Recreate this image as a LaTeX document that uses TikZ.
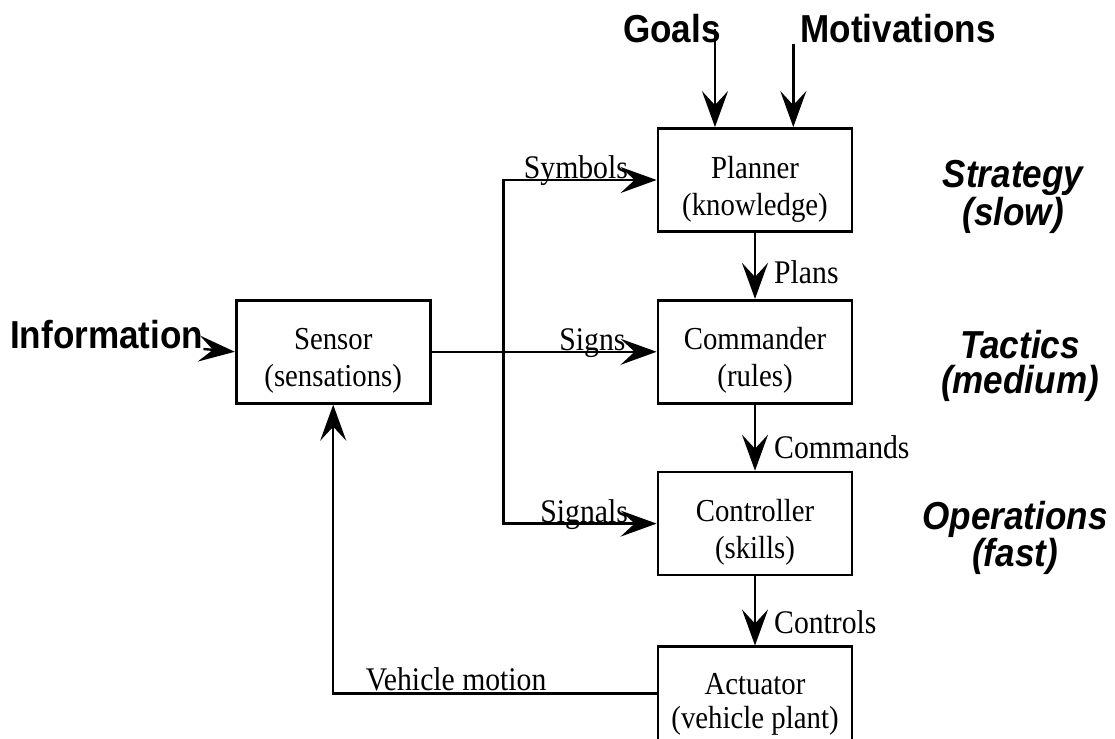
\documentclass[tikz,border=0pt]{standalone}
\usepackage{fontspec}
\setmainfont{Liberation Serif}[FakeStretch=0.9]
\newfontfamily\headfont{Liberation Sans}[FakeStretch=0.9]
\usepackage{tikz}
\usetikzlibrary{positioning,arrows.meta}
\newcommand{\boxfont}{\fontsize{32}{37}\selectfont}
\newcommand{\lblfont}{\fontsize{33}{38}\selectfont}
\newcommand{\bigfont}{\headfont\bfseries\fontsize{39}{35}\selectfont}

\begin{document}
\begin{tikzpicture}[
  x=1pt, y=1pt,
  every node/.style={align=center},
  blk/.style={draw, line width=2.8pt, minimum width=194pt, minimum height=103pt, inner sep=0pt, text height=77pt, font=\boxfont},
  lbl/.style={font=\lblfont, inner sep=0pt},
  big/.style={font=\bigfont, inner sep=0pt},
  lvl/.style={font=\bigfont\itshape, inner sep=0pt},
  arr/.style={-{Stealth[length=36pt,width=26pt,inset=14pt]}, line width=2.4pt}
]
\useasboundingbox (0,0) rectangle (1115,738);

\node[blk] (planner) at (755,558) {Planner\\(knowledge)};
\node[blk, below=66pt of planner] (commander) {Commander\\(rules)};
\node[blk, below=66pt of commander] (controller) {Controller\\(skills)};
\node[blk, below=69pt of controller, minimum height=120pt, text height=50pt] (actuator) {Actuator\\[-3pt](vehicle plant)};
\node[blk, left=225pt of commander] (sensor) {Sensor\\(sensations)};
\coordinate[right=72pt of sensor.east] (split);

\node[big, anchor=base] (goals) at (672,695) {Goals};
\node[big, anchor=base] (motiv) at (898,695) {Motivations};
\node[big, anchor=base west] (info) at (10,389) {Information};

\node[lvl] (strategy) at (1013,541) {Strategy\\(slow)};
\node[lvl] (tactics) at (1020,372) {Tactics\\(medium)};
\node[lvl] (operations) at (1015,200) {Operations\\(fast)};

\draw[arr] ([xshift=-6pt]goals.east) -- ([xshift=-6pt]goals.east |- planner.north);
\draw[arr] ([xshift=-7pt]motiv.south west) -- ([xshift=-7pt]motiv.south west |- planner.north);
\draw[arr] (info.base east) -- (sensor.west);

\draw[arr] (sensor.east) -- node[lbl, anchor=base east, pos=0.867, yshift=1pt] {Signs} (commander.west);
\draw[arr] (split) |- node[lbl, anchor=base east, pos=0.91, yshift=1pt] {Symbols} (planner.west);
\draw[arr] (split) |- node[lbl, anchor=base east, pos=0.91, yshift=1pt] {Signals} (controller.west);

\draw[arr] (planner.south) -- node[lbl, right=18pt, pos=0.6] {Plans} (commander.north);
\draw[arr] (commander.south) -- node[lbl, right=18pt, pos=0.64] {Commands} (controller.north);
\draw[arr] (controller.south) -- node[lbl, right=18pt, pos=0.66] {Controls} (actuator.north);

\draw[arr] ([yshift=-48pt]actuator.north west) -| node[lbl, anchor=base, pos=0.31, yshift=3pt] {Vehicle motion} (sensor.south);
\end{tikzpicture}
\end{document}
